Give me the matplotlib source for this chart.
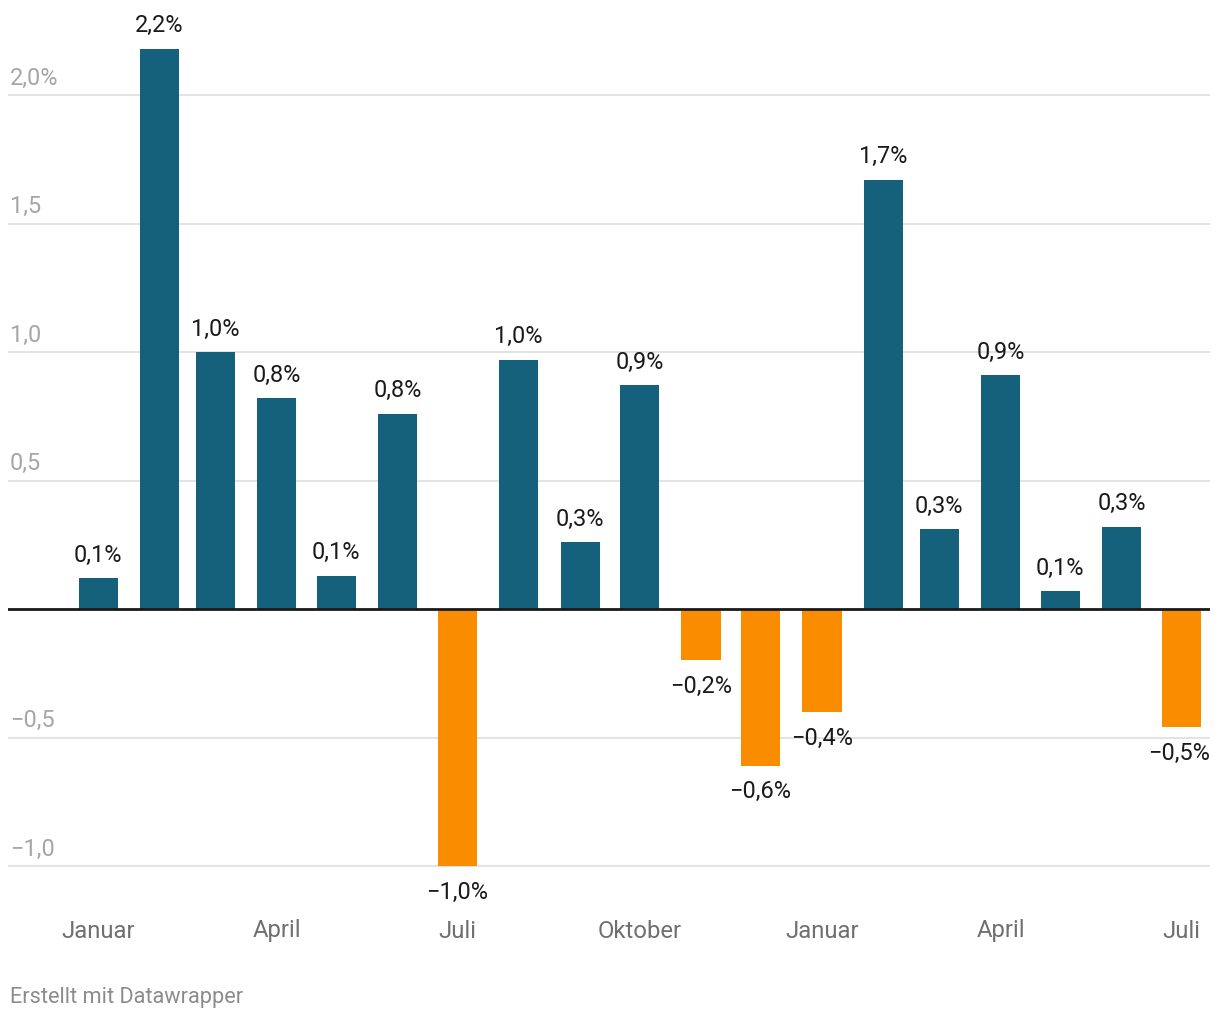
import datetime as dt
import matplotlib
matplotlib.use("Agg")
import matplotlib.pyplot as plt
import matplotlib.dates as mdates
import matplotlib.transforms as mtransforms

plt.rcParams["font.family"] = ["Roboto", "DejaVu Sans"]

# monthly change in percent, Jan 2022 .. Jul 2023
months = [dt.date(2022, m, 1) for m in range(1, 13)] + [dt.date(2023, m, 1) for m in range(1, 8)]
values = [0.12, 2.18, 1.0, 0.82, 0.13, 0.76, -1.0, 0.97, 0.26, 0.87,
          -0.2, -0.61, -0.4, 1.67, 0.31, 0.91, 0.07, 0.32, -0.46]

tick_dates = [dt.date(2022, 1, 1), dt.date(2022, 4, 1), dt.date(2022, 7, 1), dt.date(2022, 10, 1),
              dt.date(2023, 1, 1), dt.date(2023, 4, 1), dt.date(2023, 7, 1)]
tick_names = ["Januar", "April", "Juli", "Oktober", "Januar", "April", "Juli"]

y_ticks = [-1.0, -0.5, 0.5, 1.0, 1.5, 2.0]
y_tick_labels = ["\u22121,0", "\u22120,5", "0,5", "1,0", "1,5", "2,0%"]

teal = "#15607a"
orange = "#fa8c00"
fs = 16.9

W, H = 1220, 1020
fig = plt.figure(figsize=(W / 100, H / 100), dpi=100)
ax = fig.add_axes([8 / W, 1 - 882 / H, 1202 / W, 850 / H])

colors = [teal if v >= 0 else orange for v in values]
ax.bar(months, values, width=19.7, color=colors, zorder=3)

ax.set_xlim(mdates.date2num(dt.date(2021, 11, 16)) + 0.6, mdates.date2num(dt.date(2023, 7, 15)) + 0.6)
ax.set_ylim(-1.058, 2.249)

# grid
for yv in y_ticks:
    ax.axhline(yv, color="#e3e3e3", lw=1.4, zorder=1)
ax.axhline(0, color="#1a1a1a", lw=2, zorder=4)

trans = mtransforms.blended_transform_factory(ax.transAxes, ax.transData)
for yv, lab in zip(y_ticks, y_tick_labels):
    ax.annotate(lab, xy=(2 / 1202, yv), xycoords=trans, xytext=(0, 4.5), textcoords="offset points",
                ha="left", va="bottom", fontsize=fs, color="#a6a6a6")

# value labels
for i, (d, v) in enumerate(zip(months, values)):
    txt = f"{abs(v):.1f}".replace(".", ",") + "%"
    if v < 0:
        txt = "\u2212" + txt
        if i == len(values) - 1:
            ax.annotate(txt, xy=(1.0, v), xycoords=trans, xytext=(0, -9.8), textcoords="offset points",
                        ha="right", va="top", fontsize=fs, color="#1a1a1a")
            continue
        ax.annotate(txt, xy=(d, v), xytext=(0, -9.8), textcoords="offset points",
                    ha="center", va="top", fontsize=fs, color="#1a1a1a")
    else:
        ax.annotate(txt, xy=(d, v), xytext=(0, 9), textcoords="offset points",
                    ha="center", va="bottom", fontsize=fs, color="#1a1a1a")

ax.set_xticks(tick_dates)
ax.set_xticklabels(tick_names, fontsize=17.2, color="#707070")
ax.tick_params(axis="x", length=0, pad=27)
ax.set_yticks([])
for s in ax.spines.values():
    s.set_visible(False)

fig.text(10 / W, 1 - 998 / H, "Erstellt mit Datawrapper", ha="left", va="center",
         fontsize=15.7, color="#8c8c8c")

fig.savefig("out.png", dpi=100, facecolor="white")
